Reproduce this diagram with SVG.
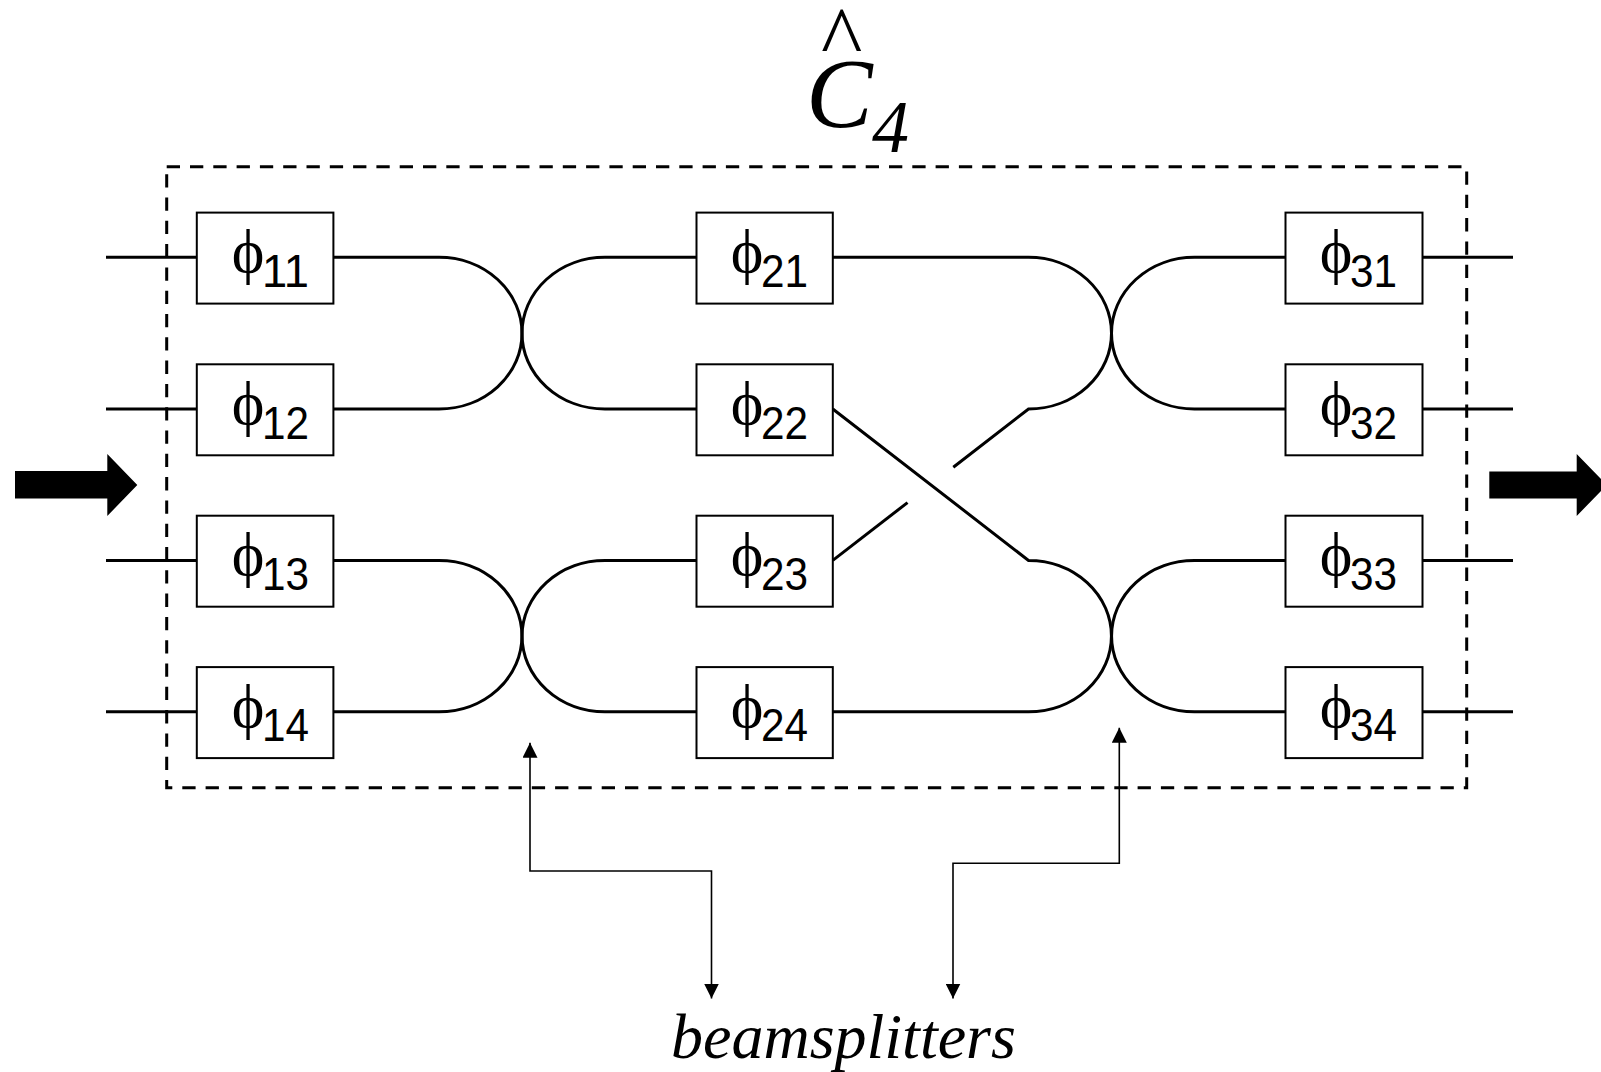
<svg xmlns="http://www.w3.org/2000/svg" width="1601" height="1072" viewBox="0 0 1601 1072">
  <style>
    .wire { fill: none; stroke: #000; stroke-width: 3; }
    .box rect { fill: #fff; stroke: #000; stroke-width: 2; }
    .phi { font-family: "Liberation Serif", "DejaVu Serif", serif; font-size: 62px; text-anchor: middle; fill: #000; }
    .sub { font-family: "Liberation Sans", Arial, sans-serif; font-size: 46px; fill: #000; }
    .ptr { fill: none; stroke: #000; stroke-width: 1.6; }
    .math { font-family: "Liberation Serif", "Times New Roman", serif; font-style: italic; fill: #000; }
  </style>
  <defs>
    <marker id="head" viewBox="0 0 15 15" refX="15" refY="7.5" markerWidth="15" markerHeight="15" markerUnits="userSpaceOnUse" orient="auto-start-reverse">
      <path d="M0,0 L15,7.5 L0,15 Z" fill="#000"/>
    </marker>
  </defs>
  <rect width="1601" height="1072" fill="#fff"/>

  <g id="title">
    <text class="math"><tspan x="821" y="68" font-style="normal" font-size="88">^</tspan><tspan x="806" y="127" font-size="100">C</tspan><tspan x="872" y="152" font-size="74">4</tspan></text>
  </g>

  <g id="circuit-boundary">
    <rect x="166.7" y="166.7" width="1300" height="621" fill="none" stroke="#000" stroke-width="3" stroke-dasharray="13.3 10"/>
  </g>

  <g id="connectors">
    <path class="wire" d="M106 257.3H196.8M106 409H196.8M106 560.4H196.8M106 711.8H196.8"/>
    <path class="wire" d="M1422.5 257.3H1513M1422.5 409H1513M1422.5 560.4H1513M1422.5 711.8H1513"/>
    <path class="wire" d="M333.4 257.3H439A83 75.85 0 0 1 439 409H333.4"/>
    <path class="wire" d="M696.5 257.3H605A83 75.85 0 0 0 605 409H696.5"/>
    <path class="wire" d="M333.4 560.4H439A83 75.7 0 0 1 439 711.8H333.4"/>
    <path class="wire" d="M696.5 560.4H605A83 75.7 0 0 0 605 711.8H696.5"/>
    <path class="wire" d="M832.8 257.3H1028.5A83 75.85 0 0 1 1028.5 409L953.3 467.2"/>
    <path class="wire" d="M907.5 502.6L832.8 560.4"/>
    <path class="wire" d="M832.8 409L1028.5 560.4A83 75.7 0 0 1 1028.5 711.8H832.8"/>
    <path class="wire" d="M1285.5 257.3H1194.5A83 75.85 0 0 0 1194.5 409H1285.5"/>
    <path class="wire" d="M1285.5 560.4H1194.5A83 75.7 0 0 0 1194.5 711.8H1285.5"/>
    <path class="ptr" d="M530 742.7V871H711.5V998.5" marker-start="url(#head)" marker-end="url(#head)"/>
    <path class="ptr" d="M1119.3 727.7V863.3H953V998.5" marker-start="url(#head)" marker-end="url(#head)"/>
  </g>

  <g id="arrow-in">
    <polygon points="15,471 107.3,471 107.3,454 137.3,485 107.3,516 107.3,498.5 15,498.5" fill="#000"/>
  </g>
  <g id="arrow-out">
    <polygon points="1489.3,471.5 1576.7,471.5 1576.7,454 1606.7,485 1576.7,516 1576.7,498.5 1489.3,498.5" fill="#000"/>
  </g>

  <g id="phi11" class="box"><rect x="196.8" y="212.6" width="136.6" height="91"/><text class="phi" x="248" y="272.3">ϕ</text><text class="sub" x="262" y="286.8" textLength="47" lengthAdjust="spacingAndGlyphs">11</text></g>
  <g id="phi12" class="box"><rect x="196.8" y="364.3" width="136.6" height="91"/><text class="phi" x="248" y="424">ϕ</text><text class="sub" x="262" y="438.5" textLength="47" lengthAdjust="spacingAndGlyphs">12</text></g>
  <g id="phi13" class="box"><rect x="196.8" y="515.7" width="136.6" height="91"/><text class="phi" x="248" y="575.4">ϕ</text><text class="sub" x="262" y="589.9" textLength="47" lengthAdjust="spacingAndGlyphs">13</text></g>
  <g id="phi14" class="box"><rect x="196.8" y="667.1" width="136.6" height="91"/><text class="phi" x="248" y="726.8">ϕ</text><text class="sub" x="262" y="741.3" textLength="47" lengthAdjust="spacingAndGlyphs">14</text></g>

  <g id="phi21" class="box"><rect x="696.5" y="212.6" width="136.3" height="91"/><text class="phi" x="747" y="272.3">ϕ</text><text class="sub" x="761" y="286.8" textLength="47" lengthAdjust="spacingAndGlyphs">21</text></g>
  <g id="phi22" class="box"><rect x="696.5" y="364.3" width="136.3" height="91"/><text class="phi" x="747" y="424">ϕ</text><text class="sub" x="761" y="438.5" textLength="47" lengthAdjust="spacingAndGlyphs">22</text></g>
  <g id="phi23" class="box"><rect x="696.5" y="515.7" width="136.3" height="91"/><text class="phi" x="747" y="575.4">ϕ</text><text class="sub" x="761" y="589.9" textLength="47" lengthAdjust="spacingAndGlyphs">23</text></g>
  <g id="phi24" class="box"><rect x="696.5" y="667.1" width="136.3" height="91"/><text class="phi" x="747" y="726.8">ϕ</text><text class="sub" x="761" y="741.3" textLength="47" lengthAdjust="spacingAndGlyphs">24</text></g>

  <g id="phi31" class="box"><rect x="1285.5" y="212.6" width="137" height="91"/><text class="phi" x="1336" y="272.3">ϕ</text><text class="sub" x="1350" y="286.8" textLength="47" lengthAdjust="spacingAndGlyphs">31</text></g>
  <g id="phi32" class="box"><rect x="1285.5" y="364.3" width="137" height="91"/><text class="phi" x="1336" y="424">ϕ</text><text class="sub" x="1350" y="438.5" textLength="47" lengthAdjust="spacingAndGlyphs">32</text></g>
  <g id="phi33" class="box"><rect x="1285.5" y="515.7" width="137" height="91"/><text class="phi" x="1336" y="575.4">ϕ</text><text class="sub" x="1350" y="589.9" textLength="47" lengthAdjust="spacingAndGlyphs">33</text></g>
  <g id="phi34" class="box"><rect x="1285.5" y="667.1" width="137" height="91"/><text class="phi" x="1336" y="726.8">ϕ</text><text class="sub" x="1350" y="741.3" textLength="47" lengthAdjust="spacingAndGlyphs">34</text></g>

  <g id="label">
    <text class="math" x="671" y="1058" font-size="64">beamsplitters</text>
  </g>
</svg>
